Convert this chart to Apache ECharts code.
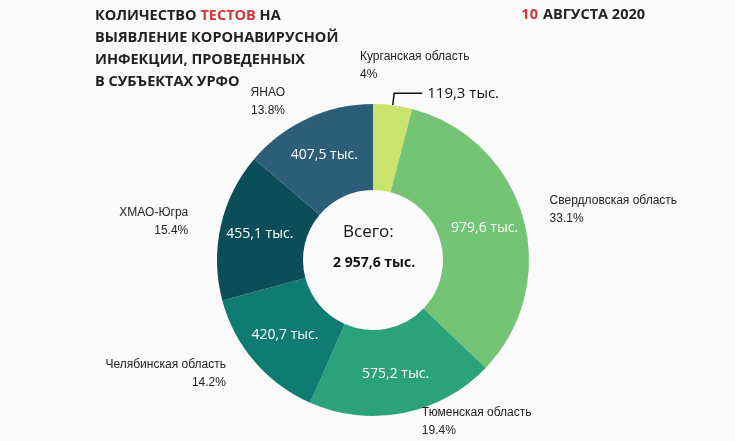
<!DOCTYPE html><html><head><meta charset="utf-8"><script src="https://cdn.jsdelivr.net/npm/echarts@6/dist/echarts.min.js"></script>
<style>html,body{margin:0;background:#fafafa}#c{width:735px;height:441px}</style></head><body><div id="c"></div><script>
const categories=['Курганская область','Свердловская область','Тюменская область','Челябинская область','ХМАО-Югра','ЯНАО'];
const values=[119.3,979.6,575.2,420.7,455.1,407.5];
const percents=['4%','33.1%','19.4%','14.2%','15.4%','13.8%'];
const totalLabel='2 957,6 тыс.';
const colors=['#c9e46c','#74c476','#2ca27b','#0f7b72','#0b4d59','#2c5f77'];
const fmt=v=>v.toFixed(1).replace('.',',')+' тыс.';
const ch=echarts.init(document.getElementById('c'));
const inner=values.map((v,i)=>{const d={name:categories[i],value:v,itemStyle:{color:colors[i]}};
 if(i===0){d.label={position:'outside',color:'#111',fontSize:15,formatter:()=>fmt(v)};
 d.labelLine={show:true,length:12,length2:28,lineStyle:{color:'#111',width:1.5}};}
 return d;});
ch.setOption({backgroundColor:'#fafafa',animation:false,
title:[{left:90,top:0,text:'{a|КОЛИЧЕСТВО }{r|ТЕСТОВ}{a| НА}\n{a|ВЫЯВЛЕНИЕ КОРОНАВИРУСНОЙ}\n{a|ИНФЕКЦИИ, ПРОВЕДЕННЫХ}\n{a|В СУБЪЕКТАХ УРФО}',
 textStyle:{rich:{a:{fontFamily:'Open Sans',fontWeight:'bold',fontSize:14.5,color:'#222',lineHeight:22},r:{fontFamily:'Open Sans',fontWeight:'bold',fontSize:14.5,color:'#d0393b',lineHeight:22}}}},
 {right:85,top:1,text:'{r|10} {a|АВГУСТА 2020}',textStyle:{rich:{a:{fontFamily:'Open Sans',fontWeight:'bold',fontSize:14.5,color:'#222'},r:{fontFamily:'Open Sans',fontWeight:'bold',fontSize:14.5,color:'#d0393b'}}}}],
graphic:[{type:'text',left:343,top:224,style:{text:'Всего:',font:'17px "Open Sans"',fill:'#111'}},
 {type:'text',left:333,top:256,style:{text:totalLabel,font:'bold 14px "Open Sans"',fill:'#111'}}],
series:[
{type:'pie',center:[373,260],radius:[70,156],startAngle:90,clockwise:true,data:inner,
 label:{position:'inside',color:'#fff',fontSize:14,fontFamily:'Open Sans',formatter:p=>fmt(p.value)},labelLine:{show:false}},
{type:'pie',center:[373,260],radius:[70,156],startAngle:90,silent:true,
 data:values.map((v,i)=>({name:categories[i],value:v,itemStyle:{color:'rgba(0,0,0,0)'}})),
 label:{position:'outside',color:'#222',fontSize:12,lineHeight:18,align:'center',fontFamily:'Liberation Sans',formatter:p=>p.name+'\n'+percents[p.dataIndex]},
 labelLine:{show:false,length:18,length2:10},
 labelLayout:p=>p.dataIndex===0?{hideOverlap:false,dx:-50,dy:-22}:{hideOverlap:false}}
]});
</script></body></html>
